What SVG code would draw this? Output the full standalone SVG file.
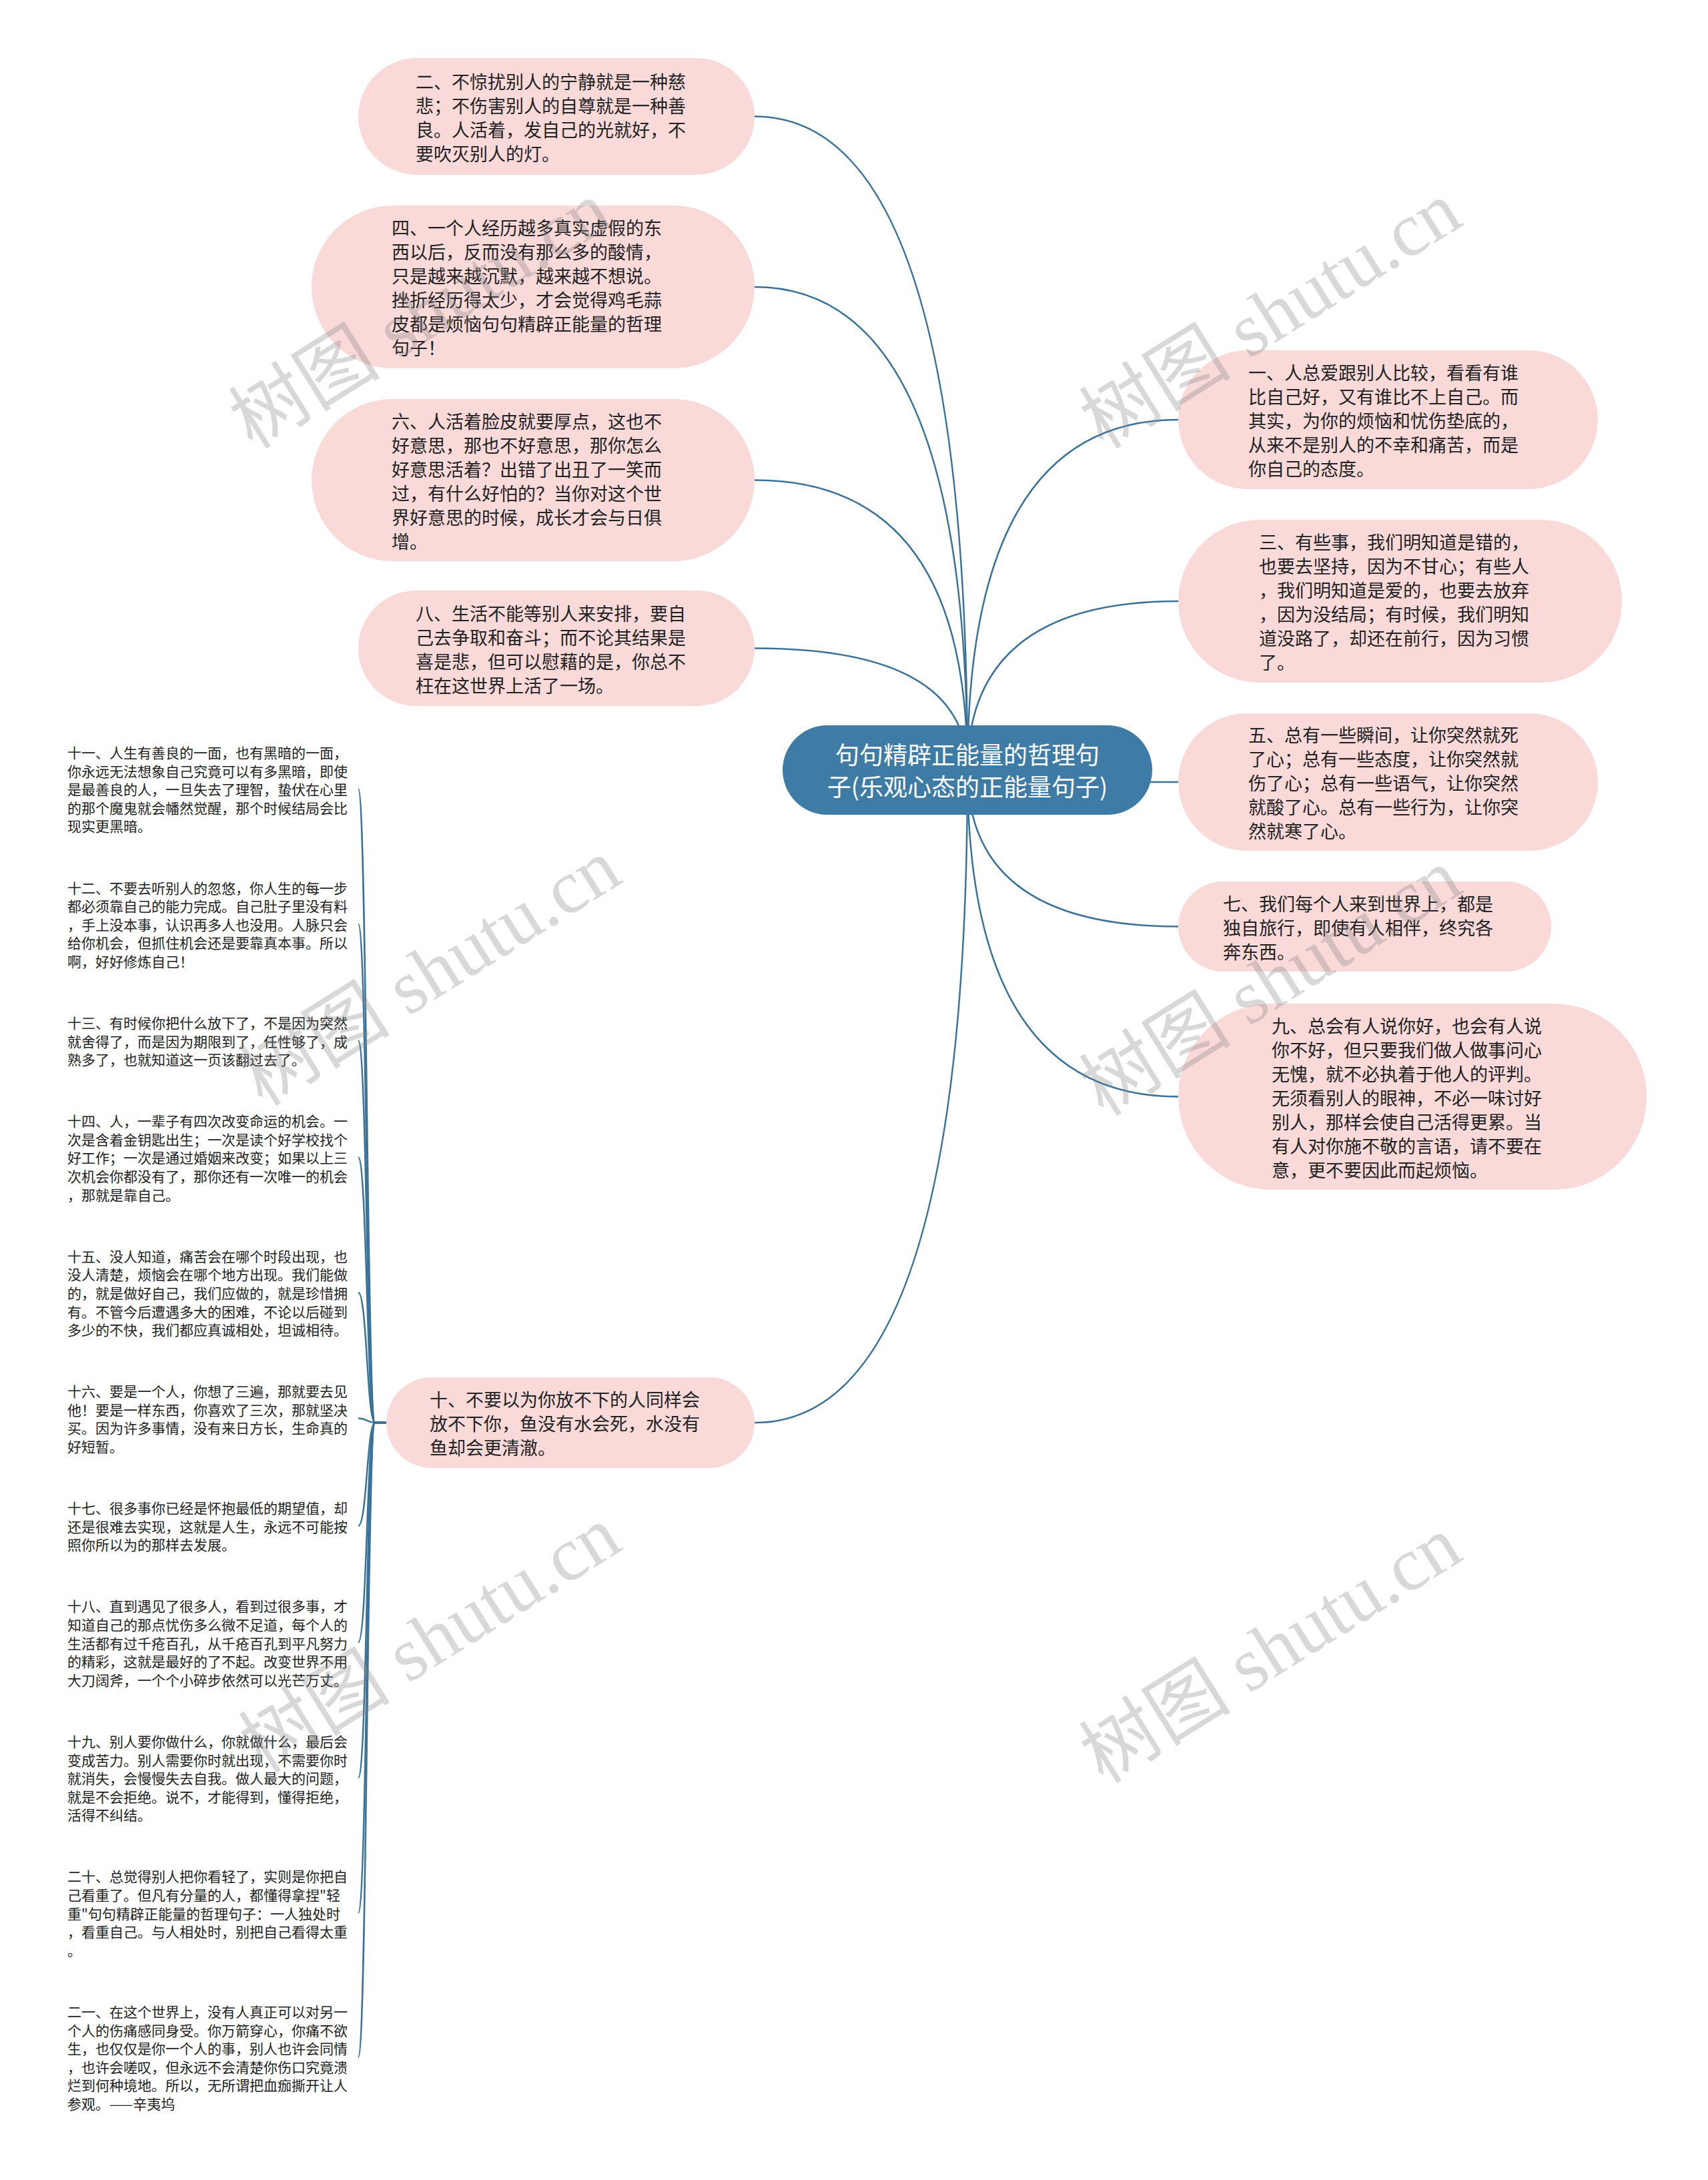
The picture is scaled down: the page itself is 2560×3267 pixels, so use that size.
<svg xmlns="http://www.w3.org/2000/svg" width="2560" height="3267" viewBox="0 0 2560 3267">
<style>
.bg{fill:#ffffff}
.pill{fill:#fad9d9}
.t{font-family:"Noto Sans CJK SC","Liberation Sans",sans-serif;font-size:27px;fill:#222222;dominant-baseline:central}
.s{font-family:"Noto Sans CJK SC","Liberation Sans",sans-serif;font-size:21px;fill:#222222;dominant-baseline:central}
.ct{font-family:"Noto Sans CJK SC","Liberation Sans",sans-serif;font-size:36px;fill:#ffffff;dominant-baseline:central;text-anchor:middle}
.link{fill:none;stroke:#3b7299;stroke-width:2.5}
.wm{font-family:"Liberation Serif","Noto Sans CJK SC",serif;font-size:114px;fill:#808080;opacity:0.3;text-anchor:middle}
</style>
<rect class="bg" x="0" y="0" width="2560" height="3267"/>
<g id="connectors">
<path class="link" d="M1450,1154 Q1450,174.5 1131,174.5"/>
<path class="link" d="M1450,1154 Q1450,430 1131,430"/>
<path class="link" d="M1450,1154 Q1450,719.5 1131,719.5"/>
<path class="link" d="M1450,1154 Q1450,971.5 1131,971.5"/>
<path class="link" d="M1450,1154 Q1450,2132 1131,2132"/>
<path class="link" d="M1450,1154 Q1450,629 1766,629"/>
<path class="link" d="M1450,1154 Q1450,901 1766,901"/>
<path class="link" d="M1450,1154 Q1450,1172 1766,1172"/>
<path class="link" d="M1450,1154 Q1450,1388.5 1766,1388.5"/>
<path class="link" d="M1450,1154 Q1450,1643.5 1766,1643.5"/>
<path class="link" d="M579,2132 L562,2132 C550,2132 550,1182.2 537,1182.2"/>
<path class="link" d="M579,2132 L562,2132 C550,2132 550,1384.7 537,1384.7"/>
<path class="link" d="M579,2132 L562,2132 C550,2132 550,1559.5 537,1559.5"/>
<path class="link" d="M579,2132 L562,2132 C550,2132 550,1734.4 537,1734.4"/>
<path class="link" d="M579,2132 L562,2132 C550,2132 550,1936.9 537,1936.9"/>
<path class="link" d="M579,2132 L562,2132 C550,2132 550,2125.6 537,2125.6"/>
<path class="link" d="M579,2132 L562,2132 C550,2132 550,2286.7 537,2286.7"/>
<path class="link" d="M579,2132 L562,2132 C550,2132 550,2461.6 537,2461.6"/>
<path class="link" d="M579,2132 L562,2132 C550,2132 550,2664.1 537,2664.1"/>
<path class="link" d="M579,2132 L562,2132 C550,2132 550,2866.6 537,2866.6"/>
<path class="link" d="M579,2132 L562,2132 C550,2132 550,3082.9 537,3082.9"/>
</g>
<g id="center">
<rect x="1173" y="1087" width="554" height="134" rx="67" fill="#3e7ca5"/>
<text class="ct"><tspan x="1450" y="1129">句句精辟正能量的哲理句</tspan><tspan x="1450" y="1177">子(乐观心态的正能量句子)</tspan></text>
</g>
<g id="n2">
<rect class="pill" x="537" y="87" width="594" height="175" rx="87.5"/>
<text class="t"><tspan x="623" y="120.5">二、不惊扰别人的宁静就是一种慈</tspan><tspan x="623" y="156.5">悲；不伤害别人的自尊就是一种善</tspan><tspan x="623" y="192.5">良。人活着，发自己的光就好，不</tspan><tspan x="623" y="228.5">要吹灭别人的灯。</tspan></text>
</g>
<g id="n4">
<rect class="pill" x="467" y="308" width="664" height="244" rx="122"/>
<text class="t"><tspan x="587" y="340">四、一个人经历越多真实虚假的东</tspan><tspan x="587" y="376">西以后，反而没有那么多的酸情，</tspan><tspan x="587" y="412">只是越来越沉默，越来越不想说。</tspan><tspan x="587" y="448">挫折经历得太少，才会觉得鸡毛蒜</tspan><tspan x="587" y="484">皮都是烦恼句句精辟正能量的哲理</tspan><tspan x="587" y="520">句子！</tspan></text>
</g>
<g id="n6">
<rect class="pill" x="467" y="598" width="664" height="243" rx="121.5"/>
<text class="t"><tspan x="587" y="629.5">六、人活着脸皮就要厚点，这也不</tspan><tspan x="587" y="665.5">好意思，那也不好意思，那你怎么</tspan><tspan x="587" y="701.5">好意思活着？出错了出丑了一笑而</tspan><tspan x="587" y="737.5">过，有什么好怕的？当你对这个世</tspan><tspan x="587" y="773.5">界好意思的时候，成长才会与日俱</tspan><tspan x="587" y="809.5">增。</tspan></text>
</g>
<g id="n8">
<rect class="pill" x="537" y="885" width="594" height="173" rx="86.5"/>
<text class="t"><tspan x="623" y="917.5">八、生活不能等别人来安排，要自</tspan><tspan x="623" y="953.5">己去争取和奋斗；而不论其结果是</tspan><tspan x="623" y="989.5">喜是悲，但可以慰藉的是，你总不</tspan><tspan x="623" y="1025.5">枉在这世界上活了一场。</tspan></text>
</g>
<g id="n10">
<rect class="pill" x="579" y="2064" width="552" height="136" rx="68"/>
<text class="t"><tspan x="644" y="2096">十、不要以为你放不下的人同样会</tspan><tspan x="644" y="2132">放不下你，鱼没有水会死，水没有</tspan><tspan x="644" y="2168">鱼却会更清澈。</tspan></text>
</g>
<g id="n1">
<rect class="pill" x="1766" y="525" width="629" height="208" rx="104"/>
<text class="t"><tspan x="1871" y="557">一、人总爱跟别人比较，看看有谁</tspan><tspan x="1871" y="593">比自己好，又有谁比不上自己。而</tspan><tspan x="1871" y="629">其实，为你的烦恼和忧伤垫底的，</tspan><tspan x="1871" y="665">从来不是别人的不幸和痛苦，而是</tspan><tspan x="1871" y="701">你自己的态度。</tspan></text>
</g>
<g id="n3">
<rect class="pill" x="1766" y="779" width="665" height="244" rx="122"/>
<text class="t"><tspan x="1887" y="811">三、有些事，我们明知道是错的，</tspan><tspan x="1887" y="847">也要去坚持，因为不甘心；有些人</tspan><tspan x="1887" y="883">，我们明知道是爱的，也要去放弃</tspan><tspan x="1887" y="919">，因为没结局；有时候，我们明知</tspan><tspan x="1887" y="955">道没路了，却还在前行，因为习惯</tspan><tspan x="1887" y="991">了。</tspan></text>
</g>
<g id="n5">
<rect class="pill" x="1766" y="1069" width="629" height="206" rx="103"/>
<text class="t"><tspan x="1871" y="1100">五、总有一些瞬间，让你突然就死</tspan><tspan x="1871" y="1136">了心；总有一些态度，让你突然就</tspan><tspan x="1871" y="1172">伤了心；总有一些语气，让你突然</tspan><tspan x="1871" y="1208">就酸了心。总有一些行为，让你突</tspan><tspan x="1871" y="1244">然就寒了心。</tspan></text>
</g>
<g id="n7">
<rect class="pill" x="1766" y="1321" width="559" height="135" rx="67.5"/>
<text class="t"><tspan x="1833" y="1352.5">七、我们每个人来到世界上，都是</tspan><tspan x="1833" y="1388.5">独自旅行，即使有人相伴，终究各</tspan><tspan x="1833" y="1424.5">奔东西。</tspan></text>
</g>
<g id="n9">
<rect class="pill" x="1766" y="1504" width="702" height="279" rx="139.5"/>
<text class="t"><tspan x="1906" y="1535.5">九、总会有人说你好，也会有人说</tspan><tspan x="1906" y="1571.5">你不好，但只要我们做人做事问心</tspan><tspan x="1906" y="1607.5">无愧，就不必执着于他人的评判。</tspan><tspan x="1906" y="1643.5">无须看别人的眼神，不必一味讨好</tspan><tspan x="1906" y="1679.5">别人，那样会使自己活得更累。当</tspan><tspan x="1906" y="1715.5">有人对你施不敬的言语，请不要在</tspan><tspan x="1906" y="1751.5">意，更不要因此而起烦恼。</tspan></text>
</g>
<g id="n11">
<text class="s"><tspan x="101" y="1127">十一、人生有善良的一面，也有黑暗的一面，</tspan><tspan x="101" y="1154.6">你永远无法想象自己究竟可以有多黑暗，即使</tspan><tspan x="101" y="1182.2">是最善良的人，一旦失去了理智，蛰伏在心里</tspan><tspan x="101" y="1209.8">的那个魔鬼就会幡然觉醒，那个时候结局会比</tspan><tspan x="101" y="1237.4">现实更黑暗。</tspan></text>
</g>
<g id="n12">
<text class="s"><tspan x="101" y="1329.5">十二、不要去听别人的忽悠，你人生的每一步</tspan><tspan x="101" y="1357.1">都必须靠自己的能力完成。自己肚子里没有料</tspan><tspan x="101" y="1384.7">，手上没本事，认识再多人也没用。人脉只会</tspan><tspan x="101" y="1412.3">给你机会，但抓住机会还是要靠真本事。所以</tspan><tspan x="101" y="1439.9">啊，好好修炼自己！</tspan></text>
</g>
<g id="n13">
<text class="s"><tspan x="101" y="1531.9">十三、有时候你把什么放下了，不是因为突然</tspan><tspan x="101" y="1559.5">就舍得了，而是因为期限到了，任性够了，成</tspan><tspan x="101" y="1587.1">熟多了，也就知道这一页该翻过去了。</tspan></text>
</g>
<g id="n14">
<text class="s"><tspan x="101" y="1679.2">十四、人，一辈子有四次改变命运的机会。一</tspan><tspan x="101" y="1706.8">次是含着金钥匙出生；一次是读个好学校找个</tspan><tspan x="101" y="1734.4">好工作；一次是通过婚姻来改变；如果以上三</tspan><tspan x="101" y="1762">次机会你都没有了，那你还有一次唯一的机会</tspan><tspan x="101" y="1789.6">，那就是靠自己。</tspan></text>
</g>
<g id="n15">
<text class="s"><tspan x="101" y="1881.7">十五、没人知道，痛苦会在哪个时段出现，也</tspan><tspan x="101" y="1909.3">没人清楚，烦恼会在哪个地方出现。我们能做</tspan><tspan x="101" y="1936.9">的，就是做好自己，我们应做的，就是珍惜拥</tspan><tspan x="101" y="1964.5">有。不管今后遭遇多大的困难，不论以后碰到</tspan><tspan x="101" y="1992.1">多少的不快，我们都应真诚相处，坦诚相待。</tspan></text>
</g>
<g id="n16">
<text class="s"><tspan x="101" y="2084.2">十六、要是一个人，你想了三遍，那就要去见</tspan><tspan x="101" y="2111.8">他！要是一样东西，你喜欢了三次，那就坚决</tspan><tspan x="101" y="2139.4">买。因为许多事情，没有来日方长，生命真的</tspan><tspan x="101" y="2167">好短暂。</tspan></text>
</g>
<g id="n17">
<text class="s"><tspan x="101" y="2259.1">十七、很多事你已经是怀抱最低的期望值，却</tspan><tspan x="101" y="2286.7">还是很难去实现，这就是人生，永远不可能按</tspan><tspan x="101" y="2314.3">照你所以为的那样去发展。</tspan></text>
</g>
<g id="n18">
<text class="s"><tspan x="101" y="2406.4">十八、直到遇见了很多人，看到过很多事，才</tspan><tspan x="101" y="2434">知道自己的那点忧伤多么微不足道，每个人的</tspan><tspan x="101" y="2461.6">生活都有过千疮百孔，从千疮百孔到平凡努力</tspan><tspan x="101" y="2489.2">的精彩，这就是最好的了不起。改变世界不用</tspan><tspan x="101" y="2516.8">大刀阔斧，一个个小碎步依然可以光芒万丈。</tspan></text>
</g>
<g id="n19">
<text class="s"><tspan x="101" y="2608.9">十九、别人要你做什么，你就做什么，最后会</tspan><tspan x="101" y="2636.5">变成苦力。别人需要你时就出现，不需要你时</tspan><tspan x="101" y="2664.1">就消失，会慢慢失去自我。做人最大的问题，</tspan><tspan x="101" y="2691.7">就是不会拒绝。说不，才能得到，懂得拒绝，</tspan><tspan x="101" y="2719.3">活得不纠结。</tspan></text>
</g>
<g id="n20">
<text class="s"><tspan x="101" y="2811.4">二十、总觉得别人把你看轻了，实则是你把自</tspan><tspan x="101" y="2839">己看重了。但凡有分量的人，都懂得拿捏"轻</tspan><tspan x="101" y="2866.6">重"句句精辟正能量的哲理句子：一人独处时</tspan><tspan x="101" y="2894.2">，看重自己。与人相处时，别把自己看得太重</tspan><tspan x="101" y="2921.8">。</tspan></text>
</g>
<g id="n21">
<text class="s"><tspan x="101" y="3013.9">二一、在这个世界上，没有人真正可以对另一</tspan><tspan x="101" y="3041.5">个人的伤痛感同身受。你万箭穿心，你痛不欲</tspan><tspan x="101" y="3069.1">生，也仅仅是你一个人的事，别人也许会同情</tspan><tspan x="101" y="3096.7">，也许会嗟叹，但永远不会清楚你伤口究竟溃</tspan><tspan x="101" y="3124.3">烂到何种境地。所以，无所谓把血痂撕开让人</tspan><tspan x="101" y="3151.9">参观。——辛夷坞</tspan></text>
</g>
<g id="watermarks">
<text class="wm" transform="translate(650,505) rotate(-32)">树图 shutu.cn</text>
<text class="wm" transform="translate(1925,505) rotate(-32)">树图 shutu.cn</text>
<text class="wm" transform="translate(665,1490) rotate(-32)">树图 shutu.cn</text>
<text class="wm" transform="translate(1925,1505) rotate(-32)">树图 shutu.cn</text>
<text class="wm" transform="translate(665,2490) rotate(-32)">树图 shutu.cn</text>
<text class="wm" transform="translate(1925,2505) rotate(-32)">树图 shutu.cn</text>
</g>
</svg>
